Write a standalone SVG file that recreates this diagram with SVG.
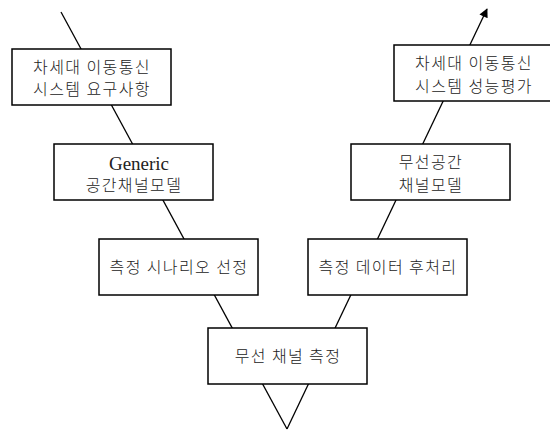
<svg xmlns="http://www.w3.org/2000/svg" width="550" height="430" viewBox="0 0 550 430">
<style>
.box{fill:#fff;stroke:#000;stroke-width:1.5}
.lbl{font-family:"Liberation Serif","Noto Sans CJK KR",serif;font-size:16px;fill:#222;text-anchor:middle}
.ko{font-family:"Noto Sans CJK KR",sans-serif;font-weight:300;letter-spacing:1.4px}
.en{font-size:19px}
.con{stroke:#000;stroke-width:1.3;fill:none}
</style>
<defs>
<marker id="arr" viewBox="0 0 10 10" refX="9" refY="5" markerWidth="10" markerHeight="9" markerUnits="userSpaceOnUse" orient="auto">
<path d="M0,0 L10,5 L0,10 z" fill="#000"/>
</marker>
</defs>
<g id="connectors">
<line class="con" x1="61" y1="12" x2="287" y2="429"/>
<line class="con" x1="287" y1="429" x2="487" y2="9" marker-end="url(#arr)"/>
</g>
<g id="n1"><rect class="box" x="12" y="49" width="159" height="56"/>
<text class="lbl ko" x="92" y="73">차세대 이동통신</text>
<text class="lbl ko" x="92" y="95">시스템 요구사항</text></g>
<g id="n2"><rect class="box" x="54" y="144" width="159" height="56"/>
<text class="lbl en" x="139" y="170">Generic</text>
<text class="lbl ko" x="134" y="191">공간채널모델</text></g>
<g id="n3"><rect class="box" x="99" y="239" width="159" height="56"/>
<text class="lbl ko" x="179" y="273">측정 시나리오 선정</text></g>
<g id="n4"><rect class="box" x="208" y="328" width="159" height="56"/>
<text class="lbl ko" x="288" y="362">무선 채널 측정</text></g>
<g id="n5"><rect class="box" x="308" y="239" width="159" height="56"/>
<text class="lbl ko" x="388" y="273">측정 데이터 후처리</text></g>
<g id="n6"><rect class="box" x="351" y="144" width="159" height="56"/>
<text class="lbl ko" x="431" y="168">무선공간</text>
<text class="lbl ko" x="431" y="191">채널모델</text></g>
<g id="n7"><rect class="box" x="394" y="45" width="159" height="56"/>
<text class="lbl ko" x="474" y="69">차세대 이동통신</text>
<text class="lbl ko" x="474" y="92">시스템 성능평가</text></g>
</svg>
